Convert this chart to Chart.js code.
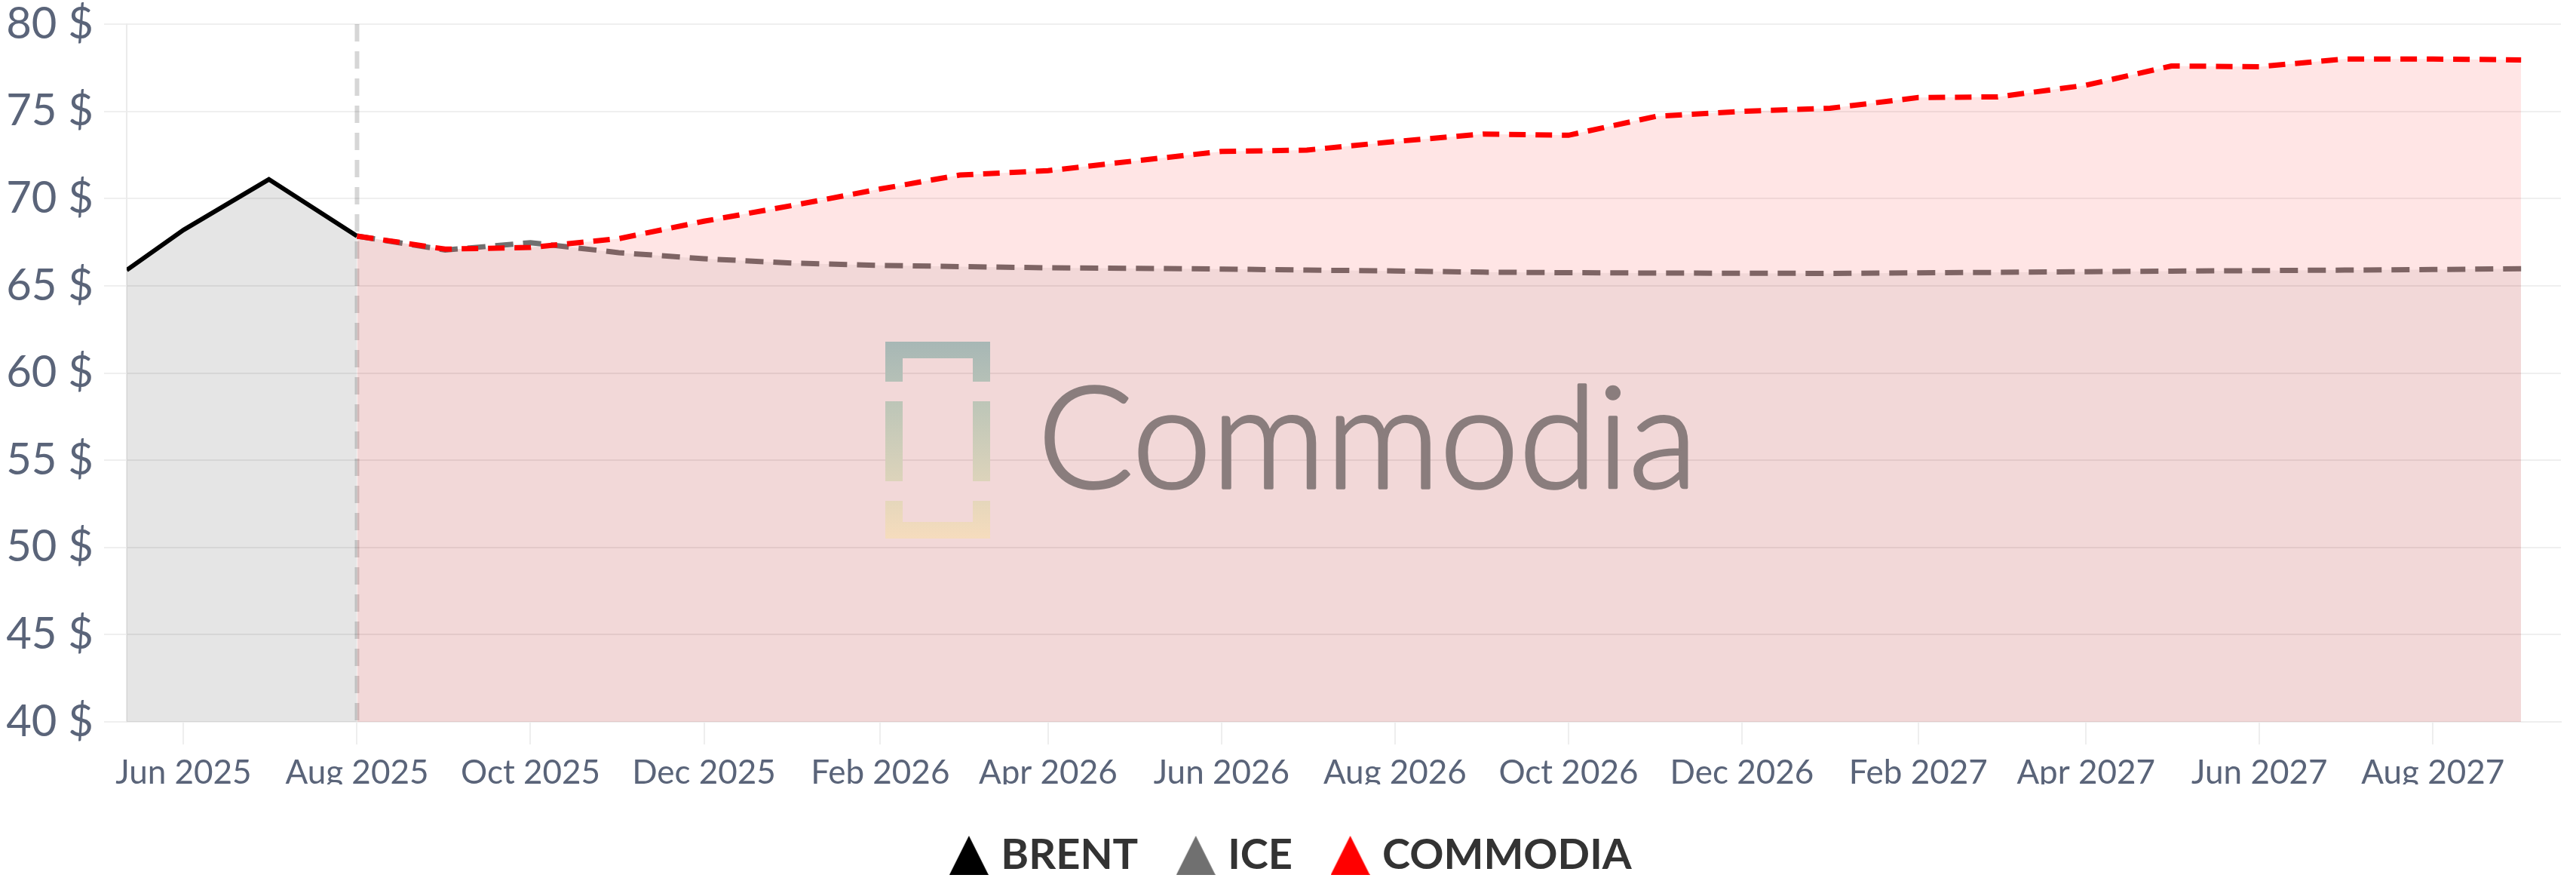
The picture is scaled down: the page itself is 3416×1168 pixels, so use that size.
<!DOCTYPE html>
<html>
<head>
<meta charset="utf-8">
<script src="https://cdn.jsdelivr.net/npm/chart.js@4.4.1/dist/chart.umd.min.js"></script>
<style>
  html, body { margin: 0; padding: 0; background: #ffffff; }
  #wrap { width: 3416px; height: 1168px; position: relative; }
</style>
</head>
<body>
<div id="wrap"><canvas id="chart"></canvas></div>
<script>
// ---------- data ----------
const seriesNames = ['BRENT', 'ICE', 'COMMODIA'];

const brentDates = ['2025-05-12', '2025-06-01', '2025-07-01', '2025-08-01'];
const brentValues = [65.9, 68.2, 71.1, 67.85];

const forecastDates = [
  '2025-08-01', '2025-09-01', '2025-10-01', '2025-11-01', '2025-12-01',
  '2026-01-01', '2026-02-01', '2026-03-01', '2026-04-01', '2026-05-01', '2026-06-01',
  '2026-07-01', '2026-08-01', '2026-09-01', '2026-10-01', '2026-11-01', '2026-12-01',
  '2027-01-01', '2027-02-01', '2027-03-01', '2027-04-01', '2027-05-01', '2027-06-01',
  '2027-07-01', '2027-08-01', '2027-09-01'
];
const iceValues = [
  67.85, 67.05, 67.47, 66.9, 66.55,
  66.3, 66.17, 66.1, 66.03, 66.0, 65.96,
  65.9, 65.85, 65.78, 65.75, 65.73, 65.72,
  65.71, 65.74, 65.77, 65.81, 65.84, 65.87,
  65.9, 65.93, 65.98
];
const commodiaValues = [
  67.85, 67.1, 67.2, 67.7, 68.7,
  69.6, 70.55, 71.35, 71.6, 72.15, 72.7,
  72.78, 73.27, 73.7, 73.63, 74.72, 75.0,
  75.18, 75.79, 75.83, 76.5, 77.6, 77.56,
  78.0, 78.0, 77.95
];

const tickDates = [
  '2025-06-01', '2025-08-01', '2025-10-01', '2025-12-01', '2026-02-01', '2026-04-01', '2026-06-01',
  '2026-08-01', '2026-10-01', '2026-12-01', '2027-02-01', '2027-04-01', '2027-06-01', '2027-08-01'
];
const tickLabels = [
  'Jun 2025', 'Aug 2025', 'Oct 2025', 'Dec 2025', 'Feb 2026', 'Apr 2026', 'Jun 2026',
  'Aug 2026', 'Oct 2026', 'Dec 2026', 'Feb 2027', 'Apr 2027', 'Jun 2027', 'Aug 2027'
];
const axisStart = '2025-05-12';
const axisEnd = '2027-09-15';
const forecastStart = '2025-08-01';
const yMin = 40, yMax = 80, yStep = 5;

// ---------- helpers ----------
const day = s => Date.UTC(+s.slice(0, 4), +s.slice(5, 7) - 1, +s.slice(8, 10)) / 86400000;
const pts = (dates, vals) => dates.map((d, i) => ({ x: day(d), y: vals[i] }));

function triangle(color) {
  const c = document.createElement('canvas');
  c.width = 52; c.height = 52;
  const g = c.getContext('2d');
  g.fillStyle = color;
  g.beginPath();
  g.moveTo(26, 0); g.lineTo(52, 52); g.lineTo(0, 52); g.closePath();
  g.fill();
  return c;
}

const LEGEND_FONT = 56;
const LEGEND_PAD = 62;
const TICK_COLOR = '#5a6479';

const forecastLine = {
  id: 'forecastLine',
  beforeDatasetsDraw(chart) {
    const { ctx, chartArea, scales } = chart;
    const x = scales.x.getPixelForValue(day(forecastStart));
    ctx.save();
    ctx.strokeStyle = 'rgba(0,0,0,0.16)';
    ctx.lineWidth = 6;
    ctx.setLineDash([23, 13]);
    ctx.beginPath();
    ctx.moveTo(x, chartArea.top);
    ctx.lineTo(x, chartArea.bottom);
    ctx.stroke();
    ctx.restore();
  }
};

const legendShift = {
  id: 'legendShift',
  afterLayout(chart) {
    const lg = chart.legend;
    if (!lg) return;
    lg.left += 19; lg.right += 19;
    lg.top += 4; lg.bottom += 4;
  }
};

const watermark = {
  id: 'watermark',
  afterDatasetsDraw(chart) {
    const ctx = chart.ctx;
    const cx = chart.width / 2, cy = chart.height / 2;
    ctx.save();
    const lx = cx - 534, ly = cy - 131, w = 139, h = 261, t = 23, tb = 22;
    const g = ctx.createLinearGradient(0, ly, 0, ly + h);
    g.addColorStop(0, '#a7b7b5');
    g.addColorStop(0.35, '#c0c7b8');
    g.addColorStop(0.75, '#e0d5bb');
    g.addColorStop(1, '#f6dcbd');
    ctx.fillStyle = g;
    const r = (x, y, ww, hh) => ctx.fillRect(lx + x, ly + y, ww, hh);
    r(0, 0, w, tb); r(0, 0, t, 53); r(w - t, 0, t, 53);
    r(0, 79, t, 106); r(w - t, 79, t, 106);
    r(0, 211, t, 50); r(w - t, 211, t, 50); r(0, h - tb, w, tb);
    ctx.font = '300 188px Lato';
    ctx.fillStyle = '#8a7d7d';
    ctx.strokeStyle = '#8a7d7d';
    ctx.lineWidth = 3.5;
    ctx.lineJoin = 'round';
    ctx.textBaseline = 'alphabetic';
    ctx.textAlign = 'left';
    const m = ctx.measureText('Commodia');
    const ink = m.actualBoundingBoxLeft + m.actualBoundingBoxRight;
    ctx.translate(cx - 321, cy + 63);
    ctx.scale(850 / ink, 1);
    ctx.fillText('Commodia', m.actualBoundingBoxLeft, 0);
    ctx.strokeText('Commodia', m.actualBoundingBoxLeft, 0);
    ctx.restore();
  }
};

new Chart(document.getElementById('chart'), {
  type: 'line',
  data: {
    datasets: [
      {
        label: seriesNames[0],
        data: pts(brentDates, brentValues),
        borderColor: '#000000',
        backgroundColor: 'rgba(0,0,0,0.1)',
        borderWidth: 6,
        fill: 'start',
        tension: 0,
        pointRadius: 0,
        pointStyle: triangle('#000000'),
        order: 3
      },
      {
        label: seriesNames[1],
        data: pts(forecastDates, iceValues),
        borderColor: '#707070',
        backgroundColor: 'rgba(0,0,0,0.06)',
        borderWidth: 7,
        borderDash: [24, 13],
        fill: 'start',
        tension: 0,
        pointRadius: 0,
        pointStyle: triangle('#707070'),
        order: 2
      },
      {
        label: seriesNames[2],
        data: pts(forecastDates, commodiaValues),
        borderColor: '#ff0000',
        backgroundColor: 'rgba(255,0,0,0.1)',
        borderWidth: 7,
        borderDash: [22, 13],
        fill: 'start',
        tension: 0,
        pointRadius: 0,
        pointStyle: triangle('#ff0000'),
        order: 1
      }
    ]
  },
  options: {
    responsive: true,
    maintainAspectRatio: false,
    animation: false,
    events: [],
    layout: { padding: { left: 0, right: 20, top: 0, bottom: 0 } },
    plugins: {
      tooltip: { enabled: false },
      legend: {
        position: 'bottom',
        reverse: true,
        labels: {
          usePointStyle: true,
          pointStyleWidth: 29,
          padding: LEGEND_PAD,
          color: '#333333',
          font: { family: 'Lato', size: LEGEND_FONT, weight: 'bold' }
        }
      }
    },
    scales: {
      x: {
        type: 'linear',
        min: day(axisStart),
        max: day(axisEnd),
        bounds: 'data',
        afterBuildTicks: s => { s.ticks = tickDates.map(d => ({ value: day(d) })); },
        afterFit: s => { s.height = 1168 - (LEGEND_FONT + LEGEND_PAD + 10) - 957; },
        grid: { drawOnChartArea: false, drawTicks: true, tickLength: 30, color: '#eeeeee', lineWidth: 2 },
        border: { display: true, color: '#eeeeee', width: 2 },
        ticks: {
          autoSkip: false,
          maxRotation: 0,
          padding: 11,
          color: TICK_COLOR,
          font: { family: 'Lato', size: 44 },
          callback: (v, i) => tickLabels[i]
        }
      },
      y: {
        min: yMin,
        max: yMax,
        afterFit: s => { s.width = 168; },
        grid: { color: '#efefef', lineWidth: 2, tickLength: 30 },
        border: { display: true, color: '#ebebeb', width: 2 },
        ticks: {
          stepSize: yStep,
          padding: 14,
          color: TICK_COLOR,
          font: { family: 'Lato', size: 58, lineHeight: 36 / 58 },
          callback: v => v + ' $'
        }
      }
    }
  },
  plugins: [forecastLine, legendShift, watermark]
});
</script>
</body>
</html>
